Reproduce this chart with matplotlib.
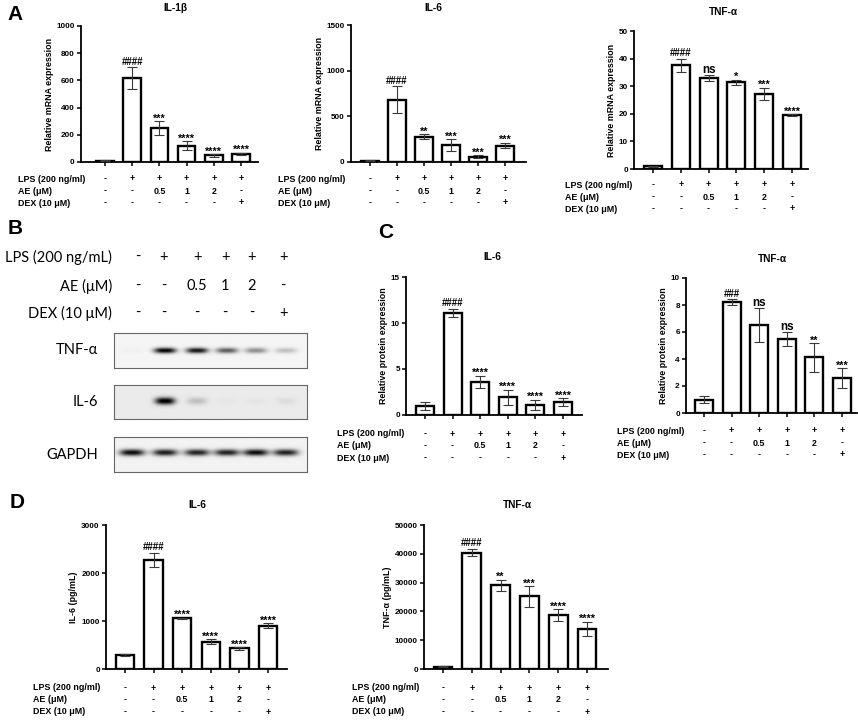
import numpy as np
import matplotlib
matplotlib.use('Agg')
import matplotlib.pyplot as plt
from matplotlib import transforms

plt.rcParams['font.family'] = ['Liberation Sans', 'DejaVu Sans']
plt.rcParams['font.weight'] = 'bold'
plt.rcParams['axes.labelweight'] = 'bold'

W, H = 858, 722
fig = plt.figure(figsize=(W / 100, H / 100), dpi=100)

# ---------------- data ----------------
lps_row = ['-', '+', '+', '+', '+', '+']
ae_row = ['-', '-', '0.5', '1', '2', '-']
dex_row = ['-', '-', '-', '-', '-', '+']
row_labels = ['LPS (200 ng/ml)', 'AE (μM)', 'DEX (10 μM)']

il1b_mrna = [10, 615, 248, 120, 48, 62]
il1b_mrna_err = [3, 80, 52, 32, 9, 7]
il1b_mrna_sig = ['', '####', '***', '****', '****', '****']

il6_mrna = [15, 680, 278, 185, 58, 180]
il6_mrna_err = [4, 148, 28, 62, 16, 30]
il6_mrna_sig = ['', '####', '**', '***', '***', '***']

tnf_mrna = [1.0, 37.5, 32.9, 31.4, 27.3, 19.6]
tnf_mrna_err = [0.1, 2.3, 1.1, 0.9, 2.2, 0.3]
tnf_mrna_sig = ['', '####', 'ns', '*', '***', '****']

il6_prot = [0.98, 11.08, 3.63, 1.93, 1.09, 1.38]
il6_prot_err = [0.45, 0.45, 0.65, 0.8, 0.55, 0.45]
il6_prot_sig = ['', '####', '****', '****', '****', '****']

tnf_prot = [0.99, 8.22, 6.54, 5.48, 4.12, 2.57]
tnf_prot_err = [0.25, 0.2, 1.25, 0.55, 1.05, 0.75]
tnf_prot_sig = ['', '###', 'ns', 'ns', '**', '***']

il6_elisa = [292, 2270, 1055, 570, 430, 903]
il6_elisa_err = [25, 150, 10, 55, 25, 45]
il6_elisa_sig = ['', '####', '****', '****', '****', '****']

tnf_elisa = [800, 40400, 29000, 25200, 18800, 13900]
tnf_elisa_err = [150, 1200, 2000, 3500, 2000, 2500]
tnf_elisa_sig = ['', '####', '**', '***', '****', '****']

# western blot band intensities (0..1)
blot_names = ['TNF-α', 'IL-6', 'GAPDH']
wb_tnf = [0.02, 1.0, 0.92, 0.62, 0.42, 0.22]
wb_il6 = [0.0, 1.0, 0.18, 0.02, 0.02, 0.06]
wb_gapdh = [0.95, 0.88, 0.85, 0.86, 0.95, 0.86]

blot_lps = ['-', '+', '+', '+', '+', '+']
blot_ae = ['-', '-', '0.5', '1', '2', '-']
blot_dex = ['-', '-', '-', '-', '-', '+']
blot_labels = ['LPS (200 ng/mL)', 'AE (μM)', 'DEX (10 μM)']


def fy(py):
    return 1 - py / H


def chart(axL, axR, yTop, y0, t0, t5, vals, errs, sigs, ymax, yticks,
          title, title_xy, ylabel, rows_y, label_x):
    ax = fig.add_axes([axL / W, fy(y0), (axR - axL) / W, (y0 - yTop) / H])
    d = (t5 - t0) / 5
    x = np.arange(len(vals))
    ax.bar(x, vals, width=0.65, color='white', edgecolor='black',
           linewidth=1.7, zorder=2)
    ax.errorbar(x, vals, yerr=errs, fmt='none', ecolor='#3a3a3a',
                elinewidth=0.8, capsize=3.5, capthick=0.8, zorder=3)
    ax.set_xlim((axL - t0) / d, (axR - t0) / d)
    ax.set_ylim(0, ymax)
    ax.set_yticks(yticks)
    ax.set_xticks(x)
    ax.set_xticklabels([''] * len(x))
    for s in ['top', 'right']:
        ax.spines[s].set_visible(False)
    for s in ['left', 'bottom']:
        ax.spines[s].set_linewidth(1.3)
    ax.tick_params(axis='both', length=3, width=1.1, labelsize=5.9, pad=1.5)
    for lab in ax.get_yticklabels():
        lab.set_fontweight('bold')
    ax.set_ylabel(ylabel, fontsize=6.4, fontweight='bold', labelpad=2)
    for xi, v, e, s in zip(x, vals, errs, sigs):
        if not s:
            continue
        if s == 'ns':
            fs, off = 8.5, 1.5
        elif s[0] == '*':
            fs, off = 7.8, -0.3
        else:
            fs, off = 7.0, 2.0
        ax.annotate(s, (xi, v + e), xytext=(0, off), textcoords='offset points',
                    ha='center', va='baseline', fontsize=fs, fontweight='bold',
                    annotation_clip=False)
    fig.text(title_xy[0] / W, fy(title_xy[1]), title, ha='center', va='center',
             fontsize=7.3, fontweight='bold')
    trans = transforms.blended_transform_factory(ax.transData, fig.transFigure)
    for ry, label, cells in zip(rows_y, row_labels, [lps_row, ae_row, dex_row]):
        fig.text(label_x / W, fy(ry), label, ha='left', va='center',
                 fontsize=6.4, fontweight='bold')
        for xi, c in zip(x, cells):
            ax.text(xi, fy(ry), c, transform=trans, ha='center', va='center',
                    fontsize=6.4, fontweight='bold')
    return ax


# Panel A
chart(81, 258, 26, 162, 105, 241, il1b_mrna, il1b_mrna_err, il1b_mrna_sig,
      1000, [0, 200, 400, 600, 800, 1000], 'IL-1β', (175, 8),
      'Relative mRNA expression', [179, 191, 203], 18)
chart(351, 526, 25, 162, 370, 505, il6_mrna, il6_mrna_err, il6_mrna_sig,
      1500, [0, 500, 1000, 1500], 'IL-6', (433, 8),
      'Relative mRNA expression', [179, 191, 203], 278)
chart(634, 808, 31, 169, 653, 792, tnf_mrna, tnf_mrna_err, tnf_mrna_sig,
      50, [0, 10, 20, 30, 40, 50], 'TNF-α', (723, 12),
      'Relative mRNA expression', [185, 197, 209], 565)

# Panel C
chart(406, 582, 277, 415, 425, 563, il6_prot, il6_prot_err, il6_prot_sig,
      15, [0, 5, 10, 15], 'IL-6', (492, 257),
      'Relative protein expression', [434, 446, 458], 337)
chart(686, 857, 278, 413, 704, 842, tnf_prot, tnf_prot_err, tnf_prot_sig,
      10, [0, 2, 4, 6, 8, 10], 'TNF-α', (772, 259),
      'Relative protein expression', [431, 443, 455], 617)

# Panel D
chart(106, 287, 525, 669, 125, 268, il6_elisa, il6_elisa_err, il6_elisa_sig,
      3000, [0, 1000, 2000, 3000], 'IL-6', (197, 505),
      'IL-6 (pg/mL)', [688, 700, 712], 33)
chart(424, 608, 525, 669, 443, 587, tnf_elisa, tnf_elisa_err, tnf_elisa_sig,
      50000, [0, 10000, 20000, 30000, 40000, 50000], 'TNF-α', (517, 505),
      'TNF-α (pg/mL)', [688, 700, 712], 352)

# Panel letters
for letter, (px, py) in zip('ABCD', [(7, 15), (8, 228), (378, 233), (10, 503)]):
    fig.text(px / W, fy(py), letter, ha='left', va='center', fontsize=15,
             fontweight='bold')

# Panel B: blot header
col_x = [138, 164, 197, 225, 252, 283]
for ry, label, cells in zip([257, 286, 313], blot_labels,
                            [blot_lps, blot_ae, blot_dex]):
    fig.text(112 / W, fy(ry), label, ha='right', va='center', fontsize=10.5,
             fontweight='normal', family=['Lato', 'DejaVu Sans'])
    for cx, c in zip(col_x, cells):
        fig.text(cx / W, fy(ry), c, ha='center', va='center', fontsize=10.5,
                 fontweight='normal', family=['Lato', 'DejaVu Sans'])

lanes = [132, 165, 197, 227, 256, 286]
boxL, boxR = 114, 307


def blot(y_top, y_bot, intens, bw, bh, yc_off, bg, name):
    ax = fig.add_axes([boxL / W, fy(y_bot), (boxR - boxL) / W, (y_bot - y_top) / H])
    xs = np.linspace(boxL, boxR, 400)
    ys = np.linspace(y_top, y_bot, 80)
    X, Y = np.meshgrid(xs, ys)
    img = np.full_like(X, bg)
    yc = (y_top + y_bot) / 2 + yc_off
    for lx, v in zip(lanes, intens):
        img -= v * 0.97 * np.exp(-np.abs((X - lx) / bw) ** 3) * np.exp(-((Y - yc) / bh) ** 2)
    ax.imshow(np.clip(img, 0, 1), cmap='gray', vmin=0, vmax=1, aspect='auto',
              extent=(boxL, boxR, y_bot, y_top), interpolation='bilinear')
    ax.set_xticks([])
    ax.set_yticks([])
    for s in ax.spines.values():
        s.set_color('#666666')
        s.set_linewidth(0.8)
    fig.text(98 / W, fy((y_top + y_bot) / 2), name, ha='right', va='center',
             fontsize=10.5, fontweight='normal', family=['Lato', 'DejaVu Sans'])


blot(333, 368, wb_tnf, 11, 2.8, 0, 0.96, blot_names[0])
blot(385, 419, wb_il6, 10, 3.6, -1, 0.92, blot_names[1])
blot(437, 472, wb_gapdh, 12.5, 3.3, -2, 0.95, blot_names[2])

fig.savefig('out.png', dpi=100)
